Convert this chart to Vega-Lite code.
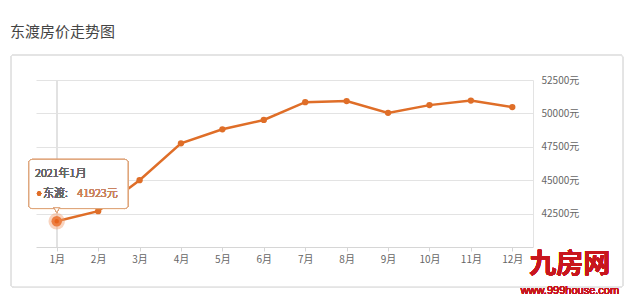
{
  "$schema": "https://vega.github.io/schema/vega-lite/v6.json",
  "width": 497,
  "height": 167,
  "autosize": {"type": "none"},
  "padding": {"left": 36, "top": 80, "right": 92, "bottom": 50},
  "background": "white",
  "config": {
    "font": "Noto Sans CJK SC",
    "view": {"stroke": null}
  },
  "title": {
    "text": "东渡房价走势图",
    "anchor": "start",
    "frame": "group",
    "dx": -26,
    "offset": 2,
    "baseline": "alphabetic",
    "fontSize": 15,
    "fontWeight": "normal",
    "color": "#444"
  },
  "data": {
    "values": [
      {"month": 1, "price": 41923},
      {"month": 2, "price": 42680},
      {"month": 3, "price": 45000},
      {"month": 4, "price": 47760},
      {"month": 5, "price": 48810},
      {"month": 6, "price": 49510},
      {"month": 7, "price": 50840},
      {"month": 8, "price": 50920},
      {"month": 9, "price": 50040},
      {"month": 10, "price": 50620},
      {"month": 11, "price": 50960},
      {"month": 12, "price": 50470}
    ]
  },
  "encoding": {
    "x": {
      "field": "month",
      "type": "quantitative",
      "scale": {"domain": [0.5, 12.5], "nice": false, "zero": false},
      "axis": {
        "title": null,
        "values": [1,2,3,4,5,6,7,8,9,10,11,12],
        "labelExpr": "datum.value + '月'",
        "grid": false,
        "domainColor": "#d6d6d6",
        "tickColor": "#d6d6d6",
        "tickSize": 4,
        "labelPadding": 3,
        "labelFontSize": 10,
        "labelColor": "#666"
      }
    },
    "y": {
      "field": "price",
      "type": "quantitative",
      "scale": {"domain": [40000, 52500], "nice": false, "zero": false},
      "axis": {
        "orient": "right",
        "title": null,
        "values": [42500, 45000, 47500, 50000, 52500],
        "labelExpr": "format(datum.value, 'd') + '元'",
        "gridColor": "#e3e3e3",
        "domainColor": "#e3e3e3",
        "ticks": false,
        "labelPadding": 8,
        "labelFontSize": 10,
        "labelColor": "#666"
      }
    }
  },
  "layer": [
    {
      "mark": {"type": "rect", "fill": null, "stroke": "#e4e4e4", "strokeWidth": 1, "cornerRadius": 3},
      "encoding": {
        "x": {"datum": -0.104},
        "x2": {"datum": 14.67},
        "y": {"datum": 54378},
        "y2": {"datum": 36977}
      }
    },
    {
      "mark": {"type": "rule", "color": "#e2e2e2", "strokeWidth": 1},
      "encoding": {
        "x": {"datum": 1},
        "y": {"datum": 40000},
        "y2": {"datum": 52500}
      }
    },
    {
      "mark": {"type": "line", "color": "#df6e28", "strokeWidth": 2.5}
    },
    {
      "mark": {"type": "point", "filled": true, "color": "#df6e28", "size": 40, "opacity": 1}
    },
    {
      "transform": [{"filter": "datum.month == 1"}],
      "mark": {"type": "point", "filled": true, "color": "#e8641c", "size": 110, "opacity": 1, "stroke": "#f2a070", "strokeWidth": 6, "strokeOpacity": 0.45}
    },
    {
      "mark": {"type": "rect", "fill": "white", "fillOpacity": 0.88, "stroke": "#dfa67c", "strokeWidth": 1, "cornerRadius": 3},
      "encoding": {
        "x": {"datum": 0.33},
        "x2": {"datum": 2.72},
        "y": {"datum": 46555},
        "y2": {"datum": 42880}
      }
    },
    {
      "mark": {"type": "point", "shape": "triangle-down", "filled": true, "fill": "white", "stroke": "#dfa67c", "strokeWidth": 1, "size": 30, "opacity": 1},
      "encoding": {
        "x": {"datum": 1},
        "y": {"datum": 42760}
      }
    },
    {
      "mark": {"type": "text", "align": "left", "baseline": "middle", "fontSize": 11, "fontWeight": 300, "color": "#666"},
      "encoding": {
        "x": {"datum": 0.476},
        "y": {"datum": 45494},
        "text": {"value": "2021年1月"}
      }
    },
    {
      "mark": {"type": "point", "shape": "circle", "filled": true, "color": "#df6e28", "size": 18, "opacity": 1},
      "encoding": {
        "x": {"datum": 0.575},
        "y": {"datum": 43997}
      }
    },
    {
      "mark": {"type": "text", "align": "left", "baseline": "middle", "fontSize": 11, "fontWeight": 300, "color": "#666"},
      "encoding": {
        "x": {"datum": 0.67},
        "y": {"datum": 43997},
        "text": {"value": "东渡:"}
      }
    },
    {
      "mark": {"type": "text", "align": "left", "baseline": "middle", "fontSize": 11, "fontWeight": 300, "color": "#c98360"},
      "encoding": {
        "x": {"datum": 1.497},
        "y": {"datum": 43997},
        "text": {"value": "41923元"}
      }
    },
    {
      "mark": {"type": "text", "align": "center", "baseline": "middle", "fontSize": 27, "fontWeight": "bold", "color": "#c8161d"},
      "encoding": {
        "x": {"datum": 13.39},
        "y": {"datum": 38630},
        "text": {"value": "九房网"}
      }
    },
    {
      "mark": {"type": "text", "align": "center", "baseline": "middle", "fontSize": 11, "font": "Liberation Sans", "color": "#c8161d"},
      "encoding": {
        "x": {"datum": 13.39},
        "y": {"datum": 36740},
        "text": {"value": "www.999house.com"}
      }
    }
  ]
}
